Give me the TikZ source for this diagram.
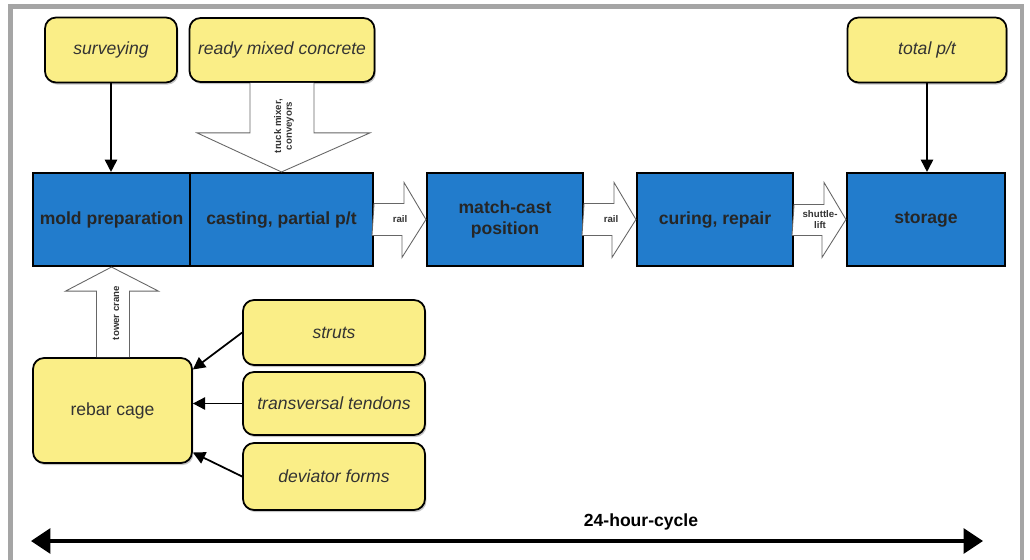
\documentclass[tikz,border=0pt]{standalone}
\usepackage{fontspec}
\setmainfont{Liberation Sans}
\usetikzlibrary{calc,shadows,arrows.meta}
\definecolor{stageblue}{RGB}{34,124,204}
\definecolor{inputyellow}{RGB}{250,238,135}
\definecolor{framegray}{RGB}{165,165,165}
\begin{document}
\begin{tikzpicture}[x=0.02cm, y=-0.02cm,
    stage/.style={draw=black, line width=1.2pt, fill=stageblue, text=black!85, align=center,
        inner sep=0pt, font=\fontsize{10}{12}\selectfont\bfseries},
    input/.style={draw=black, line width=1pt, fill=inputyellow, text=black!80, align=center,
        inner sep=0pt, rounded corners=0.22cm, font=\fontsize{10}{12}\selectfont\itshape,
        drop shadow={shadow xshift=0.8pt, shadow yshift=-1.2pt, opacity=0.45}},
    feed/.style={-{Triangle[length=7pt, width=7pt]}, line width=1pt},
    blockarrow/.style={draw=black!60, line width=0.5pt, fill=white},
    tinylabel/.style={font=\fontsize{5.5}{6}\selectfont\bfseries, text=black!80, align=center, inner sep=0pt}
    ]
    \useasboundingbox (0,0) rectangle (1030,560);
    \draw[framegray, line width=2.6pt] (10.5,565) -- (10.5,6.5) -- (1022,6.5) -- (1022,565);

    % inputs on top
    \node[input, minimum width=2.64cm, minimum height=1.3cm] at (111,50) (survey) {surveying};
    \node[input, minimum width=3.7cm, minimum height=1.28cm] at (282,50) (concrete) {ready mixed concrete};
    \node[input, minimum width=3.18cm, minimum height=1.3cm] at (927,50) (totalpt) {total p/t};

    % production line
    \node[stage, minimum width=3.14cm, minimum height=1.86cm] at (111.5,219.5) (mold) {mold preparation};
    \node[stage, minimum width=3.66cm, minimum height=1.86cm] at (281.5,219.5) (cast) {casting, partial p/t};
    \node[stage, minimum width=3.12cm, minimum height=1.86cm] at (505,219.5) (match) {match-cast\\position};
    \node[stage, minimum width=3.12cm, minimum height=1.86cm] at (715,219.5) (curing) {curing, repair};
    \node[stage, minimum width=3.16cm, minimum height=1.86cm] at (926,219.5) (storage) {storage};

    % reinforcement
    \node[input, minimum width=3.18cm, minimum height=2.1cm, font=\fontsize{10}{12}\selectfont] at (112.5,410.5) (rebar) {rebar cage};
    \node[input, minimum width=3.64cm, minimum height=1.3cm] at (334,332.5) (struts) {struts};
    \node[input, minimum width=3.64cm, minimum height=1.26cm] at (334,403.5) (tendons) {transversal tendons};
    \node[input, minimum width=3.64cm, minimum height=1.34cm] at (334,476.5) (deviator) {deviator forms};

    % block arrows
    \draw[blockarrow] ($(concrete.south)+(-32,0)$) -- ++(0,50) -- ++(-53,0) -- (cast.north)
        -- ($(concrete.south)+(88,50)$) -- ++(-56,0) -- ++(0,-50);
    \node[tinylabel, rotate=90] at (284,126) {truck mixer,\\conveyors};
    \draw[blockarrow] ($(rebar.north)+(-16,0)$) -- ++(0,-66) -- ++(-31,0) -- (mold.south)
        -- ($(rebar.north)+(46,-66)$) -- ++(-29,0) -- ++(0,66);
    \node[tinylabel, rotate=90] at (116,313) {tower crane};
    \draw[blockarrow] ($(cast.east)+(0,-16)$) -- ++(30,0) -- ++(0,-21) -- (match.west)
        -- ++(-24,38) -- ++(0,-22) -- ++(-30,0) -- cycle;
    \node[tinylabel] at ($(cast.east)+(26,0)$) {rail};
    \draw[blockarrow] ($(match.east)+(0,-16)$) -- ++(30,0) -- ++(0,-21) -- (curing.west)
        -- ++(-24,38) -- ++(0,-22) -- ++(-30,0) -- cycle;
    \node[tinylabel] at ($(match.east)+(27,0)$) {rail};
    \draw[blockarrow] ($(curing.east)+(0,-15)$) -- ++(30,0) -- ++(0,-22) -- (storage.west)
        -- ++(-24,38) -- ++(0,-22) -- ++(-30,0) -- cycle;
    \node[tinylabel] at ($(curing.east)+(26,0)$) {shuttle-\\lift};

    % feeding arrows
    \draw[feed] (survey.south) -- (survey.south |- mold.north);
    \draw[feed] (totalpt.south) -- (totalpt.south |- storage.north);
    \draw[feed] (struts.west) -- ($(rebar.east)+(0,-41)$);
    \draw[feed] (tendons.west) -- (tendons.west -| rebar.east);
    \draw[feed] (deviator.west) -- ($(rebar.east)+(0,42)$);

    % cycle
    \coordinate (cyclestart) at (31,541);
    \coordinate (cycleend) at (983,541);
    \draw[{Triangle[length=11pt, width=14pt]}-{Triangle[length=11pt, width=14pt]}, line width=2.2pt]
        (cyclestart) -- (cycleend);
    \node[font=\fontsize{10}{12}\selectfont\bfseries] at (641,522) (cycle) {24-hour-cycle};
\end{tikzpicture}
\end{document}
